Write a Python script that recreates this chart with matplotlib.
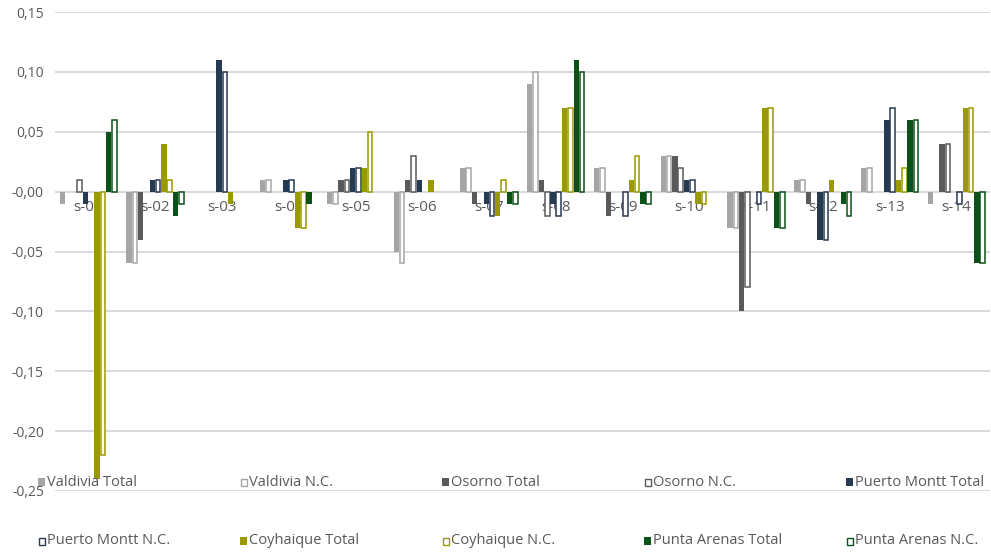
import matplotlib

matplotlib.use("Agg")
import matplotlib.pyplot as plt
import numpy as np
from matplotlib.patches import Rectangle

matplotlib.rcParams["font.family"] = ["Open Sans", "DejaVu Sans"]

categories = [f"s-{i:02d}" for i in range(1, 15)]

series_names = [
    "Valdivia Total", "Valdivia N.C.",
    "Osorno Total", "Osorno N.C.",
    "Puerto Montt Total", "Puerto Montt N.C.",
    "Coyhaique Total", "Coyhaique N.C.",
    "Punta Arenas Total", "Punta Arenas N.C.",
]

valdivia_total = [-0.01, -0.06, 0.00, 0.01, -0.01, -0.05, 0.02, 0.09, 0.02, 0.03, -0.03, 0.01, 0.02, -0.01]
valdivia_nc = [0.00, -0.06, 0.00, 0.01, -0.01, -0.06, 0.02, 0.10, 0.02, 0.03, -0.03, 0.01, 0.02, 0.00]
osorno_total = [0.00, -0.04, 0.00, 0.00, 0.01, 0.01, -0.01, 0.01, -0.02, 0.03, -0.10, -0.01, 0.00, 0.04]
osorno_nc = [0.01, 0.00, 0.00, 0.00, 0.01, 0.03, 0.00, -0.02, 0.00, 0.02, -0.08, 0.00, 0.00, 0.04]
pmontt_total = [-0.01, 0.01, 0.11, 0.01, 0.02, 0.01, -0.01, -0.01, 0.00, 0.01, 0.00, -0.04, 0.06, 0.00]
pmontt_nc = [0.00, 0.01, 0.10, 0.01, 0.02, 0.00, -0.02, -0.02, -0.02, 0.01, -0.01, -0.04, 0.07, -0.01]
coyhaique_total = [-0.24, 0.04, -0.01, -0.03, 0.02, 0.01, -0.02, 0.07, 0.01, -0.01, 0.07, 0.01, 0.01, 0.07]
coyhaique_nc = [-0.22, 0.01, 0.00, -0.03, 0.05, 0.00, 0.01, 0.07, 0.03, -0.01, 0.07, 0.00, 0.02, 0.07]
parenas_total = [0.05, -0.02, 0.00, -0.01, 0.00, 0.00, -0.01, 0.11, -0.01, 0.00, -0.03, -0.01, 0.06, -0.06]
parenas_nc = [0.06, -0.01, 0.00, 0.00, 0.00, 0.00, -0.01, 0.10, -0.01, 0.00, -0.03, -0.02, 0.06, -0.06]

series_values = [
    valdivia_total, valdivia_nc, osorno_total, osorno_nc,
    pmontt_total, pmontt_nc, coyhaique_total, coyhaique_nc,
    parenas_total, parenas_nc,
]

city_colors = ["#A5A5A5", "#5A5A5A", "#263A52", "#999900", "#0B5118"]
TEXT = "#595959"
GRID = "#D9D9D9"

fig = plt.figure(figsize=(9.91, 5.52), dpi=100)
ax = fig.add_axes([55 / 991, 1 - 491 / 552, 935 / 991, (491 - 12) / 552])

x = np.arange(len(categories))
step = 0.0868
for k, (name, vals) in enumerate(zip(series_names, series_values)):
    color = city_colors[k // 2]
    offs = (k - 4.5) * step
    vals = np.array(vals)
    mask = vals != 0
    if k % 2 == 0:
        ax.bar(x[mask] + offs, vals[mask], width=step * 0.92, color=color,
               linewidth=0, zorder=3)
    else:
        ax.bar(x[mask] + offs, vals[mask], width=step * 0.8, facecolor="white",
               edgecolor=color, linewidth=1.1, zorder=3)

ax.set_xlim(-0.5, len(categories) - 0.5)
ax.set_ylim(-0.25, 0.15)
yt = np.arange(-0.25, 0.151, 0.05)
ax.set_yticks(yt)
ax.set_yticklabels([f"{v:.2f}".replace(".", ",") for v in yt], color=TEXT, fontsize=10)
ax.tick_params(axis="y", length=0, pad=8)
ax.set_xticks([])
ax.grid(axis="y", color=GRID, linewidth=1.4, zorder=0)
ax.set_axisbelow(True)
for sp in ax.spines.values():
    sp.set_visible(False)

for i, c in enumerate(categories):
    ax.annotate(c, (i, 0), xytext=(0, -6), textcoords="offset points",
                ha="center", va="top", fontsize=11, color=TEXT, zorder=2)

# legend, Excel style: 5 columns x 2 rows, evenly spaced
col_x = [38, 240, 442, 644, 846]
row_y = [482, 541]
for k, name in enumerate(series_names):
    r, c = divmod(k, 5)
    px, py = col_x[c], row_y[r]
    color = city_colors[k // 2]
    if k % 2 == 0:
        sq = Rectangle((px / 991, 1 - (py + 4) / 552), 7 / 991, 8 / 552,
                       transform=fig.transFigure, facecolor=color, edgecolor="none")
    else:
        sq = Rectangle((px / 991 + 0.0008, 1 - (py + 3.5) / 552), 6 / 991, 7 / 552,
                       transform=fig.transFigure, facecolor="white", edgecolor=color,
                       linewidth=1.0)
    fig.patches.append(sq)
    fig.text((px + 9) / 991, 1 - py / 552, name, ha="left", va="center",
             fontsize=10.5, color=TEXT)

fig.savefig("out.png", dpi=100)
